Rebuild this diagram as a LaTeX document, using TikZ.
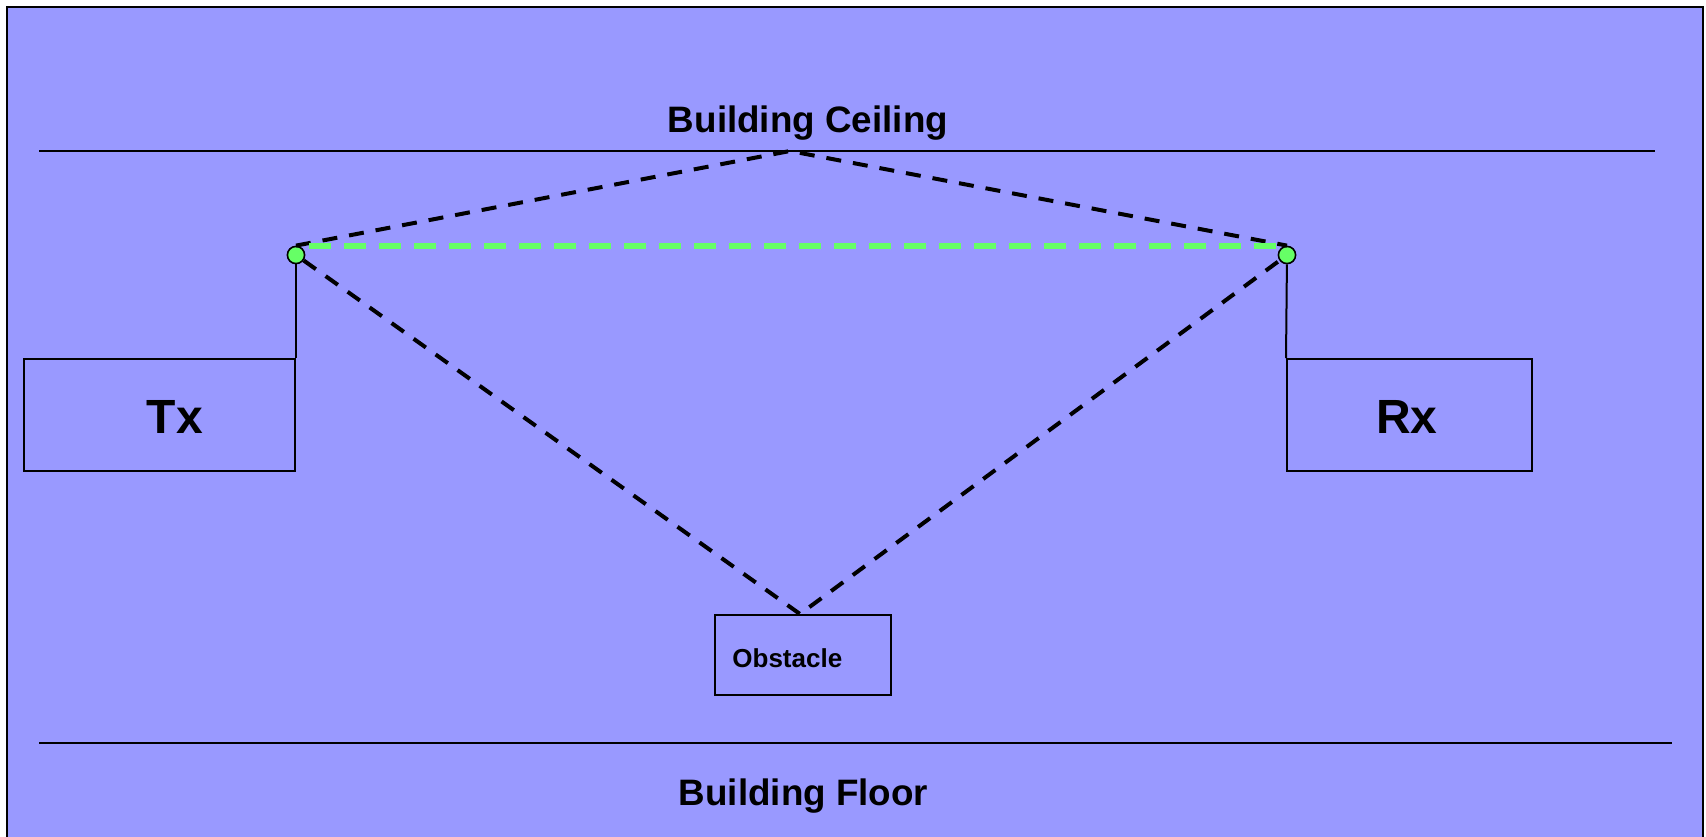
\documentclass[tikz,border=0pt]{standalone}
\usepackage{fontspec}
\setmainfont{Liberation Sans}
\usetikzlibrary{positioning}
\definecolor{roombg}{RGB}{153,153,255}
\definecolor{losgreen}{RGB}{102,255,102}

\begin{document}
\begin{tikzpicture}[
  x=0.5pt, y=-0.5pt,
  box/.style={draw, line width=1pt, inner sep=0pt},
  antenna/.style={circle, draw, line width=0.8pt, fill=losgreen, minimum size=8.6pt, inner sep=0pt},
  ray/.style={dash pattern=on 7.5pt off 6pt, line width=2pt},
  los/.style={draw=losgreen, dash pattern=on 11pt off 6.5pt, dash phase=11pt, line width=3pt},
  wall/.style={line width=1pt},
  title/.style={font=\bfseries\fontsize{18.4}{22}\selectfont, inner sep=0pt},
  big/.style={font=\bfseries\fontsize{24}{28}\selectfont, inner sep=0pt},
  small/.style={font=\bfseries\fontsize{13}{16}\selectfont, inner sep=0pt}
]
\clip (0,0) rectangle (1706,836);
\draw[line width=1pt, fill=roombg] (7,7) rectangle (1703,860);

% ceiling and floor
\coordinate (ceilL) at (39,151);
\coordinate (ceilR) at (1655,151);
\coordinate (floorL) at (39,743);
\coordinate (floorR) at (1672,743);
\draw[wall] (ceilL) -- (ceilR);
\draw[wall] (floorL) -- (floorR);
\node[title, anchor=base] (ceiling) at (808,132) {Building Ceiling};
\node[title, anchor=base] (floor) at (803.5,805) {Building Floor};

% transmitter, receiver and obstacle
\node[box, minimum width=135.5pt, minimum height=56pt] (tx) at (159.5,415) {};
\node[big, anchor=base] (txlabel) at (175,433) {Tx};
\node[box, minimum width=122.5pt, minimum height=56pt] (rx) at (1409.5,415) {};
\node[big, anchor=base] (rxlabel) at (1407,433) {Rx};
\node[box, minimum width=88pt, minimum height=40pt] (obs) at (803,655) {};
\node[small, anchor=base west] (obslabel) at (732,667) {Obstacle};

\node[antenna] (txant) at (296,255) {};
\node[antenna] (rxant) at (1287,255) {};
\draw[wall] (txant) -- (tx.north east);
\draw[wall] (rxant) -- (rx.north west);

% propagation paths
\coordinate (ceilpt) at (790,151);
\coordinate (bounce) at ([xshift=-1.5pt]obs.north);
\draw[ray] (txant.north) -- (ceilpt) -- (rxant.north);
\draw[ray] (txant) -- (bounce) -- (rxant);
\draw[los] (txant.north) -- (rxant.north);
\end{tikzpicture}
\end{document}
